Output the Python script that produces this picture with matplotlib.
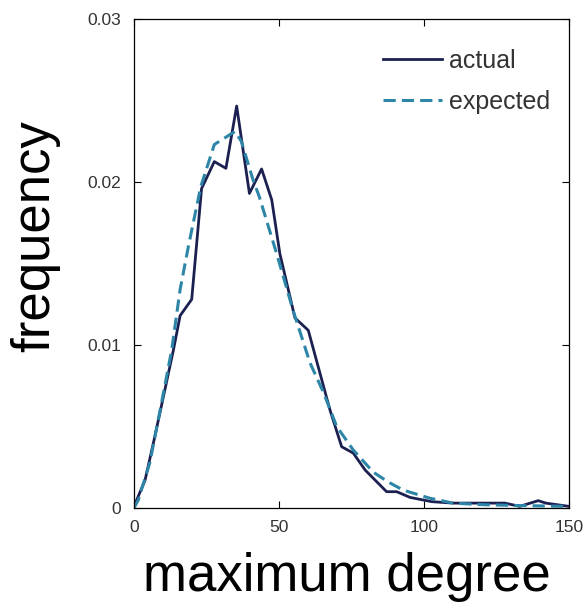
import numpy as np
import matplotlib.pyplot as plt

# --- data ---
actual_deg = [0, 3.8, 7.2, 10.1, 13.6, 15.9, 19.9, 21.4, 23.3, 27.7, 31.7, 35.4,
              39.8, 44.0, 47.5, 50.3, 55.5, 60.1, 67.6, 71.6, 75.6, 79.7, 87.1,
              90.6, 95.2, 102.6, 110, 127.9, 133, 139.4, 142, 150]
actual_freq = [0.0001, 0.0017, 0.0044, 0.0068, 0.0097, 0.0118, 0.0128, 0.0158,
               0.0196, 0.02125, 0.02084, 0.02466, 0.0193, 0.0208, 0.0189, 0.0156,
               0.01166, 0.0109, 0.0060, 0.00376, 0.00337, 0.00233, 0.0010,
               0.0010, 0.00065, 0.00039, 0.0003, 0.0003, 0.0001, 0.00045,
               0.0003, 0.0001]

expected_deg = [0, 1.5, 5.5, 9.0, 13.0, 15.9, 18.7, 23.0, 27.7, 34.8, 37.0, 41.1,
                43.2, 49.2, 54.9, 60.7, 65.3, 69.9, 75.6, 82.5, 87.6, 92.8, 102,
                110, 121, 133, 150]
expected_freq = [0.0, 0.0005, 0.0028, 0.006, 0.0097, 0.0134, 0.0160, 0.0197,
                 0.0223, 0.0231, 0.0225, 0.0201, 0.0191, 0.0156, 0.0121, 0.0089,
                 0.0071, 0.005, 0.00356, 0.0022, 0.0016, 0.0011, 0.0006, 0.0003,
                 0.0002, 0.00015, 0.0001]

x_ticks = [0, 50, 100, 150]
y_ticks = [0, 0.01, 0.02, 0.03]
y_ticklabels = ["0", "0.01", "0.02", "0.03"]

font = ["Liberation Sans", "DejaVu Sans"]

fig = plt.figure(figsize=(5.83, 6.03), dpi=100)
ax = fig.add_axes([134 / 583, 1 - 508 / 603, 435 / 583, 489 / 603])

ax.plot(actual_deg, actual_freq, color="#1b2050", lw=2.0, label="actual")
ax.plot(expected_deg, expected_freq, color="#2d86a8", lw=2.2, ls=(0, (4, 2)),
        label="expected")

ax.set_xlim(0, 150)
ax.set_ylim(0, 0.03)
ax.set_xticks(x_ticks)
ax.set_yticks(y_ticks)
ax.set_yticklabels(y_ticklabels)
ax.tick_params(direction="in", length=5, top=True, right=True, width=0.8,
               labelsize=12.5, pad=9)
for lab in ax.get_xticklabels() + ax.get_yticklabels():
    lab.set_family(font)
    lab.set_color("#333333")
for sp in ax.spines.values():
    sp.set_linewidth(0.9)

ax.set_xlabel("maximum degree", fontsize=38, family=font)
ax.set_ylabel("frequency", fontsize=38, family=font)
ax.xaxis.set_label_coords(0.49, -0.09)
ax.yaxis.set_label_coords(-0.17, 0.556)

leg = ax.legend(loc="upper left", bbox_to_anchor=(0.572, 0.939), frameon=False,
                prop={"family": font, "size": 18}, borderpad=0,
                borderaxespad=0, handlelength=2.36, handletextpad=0.3,
                labelspacing=0.68)
for t in leg.get_texts():
    t.set_color("#333333")

fig.savefig("out.png", dpi=100)
